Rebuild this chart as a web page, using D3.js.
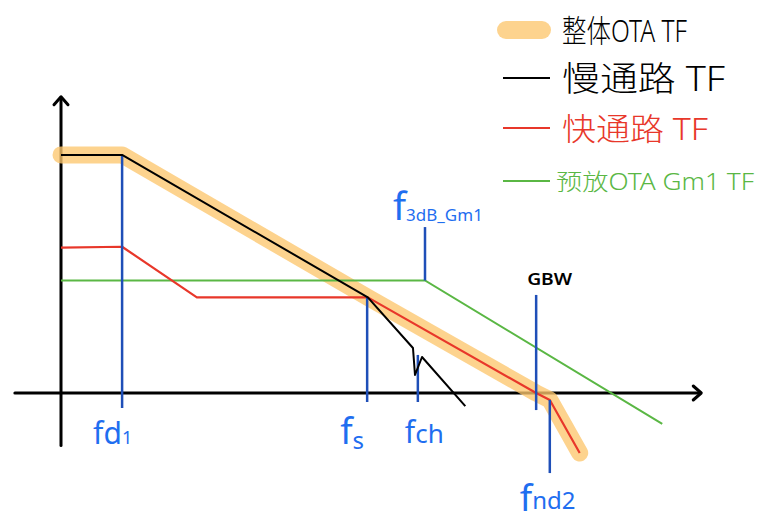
<!DOCTYPE html>
<html>
<head>
<meta charset="utf-8">
<script src="https://cdn.jsdelivr.net/npm/d3@7/dist/d3.min.js"></script>
<style>
  html, body { margin: 0; padding: 0; background: #fff; }
  svg { display: block; }
  text { font-family: "Noto Sans", "Noto Sans CJK SC", sans-serif; }
</style>
</head>
<body>
<svg id="chart" width="771" height="522"></svg>
<script>
// ---- data: x = log10(frequency) [decades], y = gain [dB] ----
const overallTF = [[0, 127], [0.94, 127], [4.72, 51], [7.31, 0], [7.52, -3.7], [7.98, -32]];
const slowPathTF = [[0, 127], [0.94, 127], [4.72, 51], [5.415, 24], [5.446, 9.6], [5.554, 19.2], [6.22, -7]];
const fastPathTF = [[0, 77.5], [0.94, 78], [2.09, 51], [4.72, 51], [7.31, 0], [7.52, -3.7], [7.98, -32]];
const preampTF = [[0, 60], [5.6, 60], [9.25, -16.5]];

const markerNames = ["fd1", "fs", "fch", "f3dB_Gm1", "GBW", "fnd2"];
const markerFreqs = [0.94, 4.71, 5.49, 5.6, 7.31, 7.52];
const markerTop = [127, 51, 20.3, 88.5, 52.3, -3.7];
const markerBottom = [-8, -4.8, -4.8, 60, -9.1, -42.7];

const legendLabels = ["整体OTA TF", "慢通路 TF", "快通路 TF", "预放OTA Gm1 TF"];
const axisRange = { xMin: -0.71, xMax: 9.85, yMin: -28, yMax: 158 };

// ---- scales ----
const svg = d3.select("#chart");
const x = d3.scaleLinear().domain([0, 10]).range([61, 711]);
const y = d3.scaleLinear().domain([-40, 160]).range([468, 93]);
const line = d3.line().x(d => x(d[0])).y(d => y(d[1]));

// ---- axes ----
const ax = svg.append("g").attr("stroke", "#000").attr("stroke-width", 3)
  .attr("fill", "none").attr("stroke-linecap", "round").attr("stroke-linejoin", "round");
ax.append("line").attr("x1", x(axisRange.xMin)).attr("x2", x(axisRange.xMax) - 1)
  .attr("y1", y(0)).attr("y2", y(0));
ax.append("line").attr("x1", x(0)).attr("x2", x(0))
  .attr("y1", y(axisRange.yMin)).attr("y2", y(axisRange.yMax) + 1);
// arrow heads
ax.append("path").attr("d", `M${x(axisRange.xMax) - 8},${y(0) - 7} L${x(axisRange.xMax)},${y(0)} L${x(axisRange.xMax) - 8},${y(0) + 7}`);
ax.append("path").attr("d", `M${x(0) - 7},${y(axisRange.yMax) + 8} L${x(0)},${y(axisRange.yMax)} L${x(0) + 7},${y(axisRange.yMax) + 8}`);

// ---- overall (thick orange highlight) ----
svg.append("path").datum(overallTF).attr("d", line)
  .attr("fill", "none").attr("stroke", "#fdc66e").attr("stroke-opacity", 0.78)
  .attr("stroke-width", 17).attr("stroke-linecap", "round").attr("stroke-linejoin", "round");

// ---- green preamp ----
svg.append("path").datum(preampTF).attr("d", line)
  .attr("fill", "none").attr("stroke", "#5ab744").attr("stroke-width", 2);

// ---- red fast path ----
svg.append("path").datum(fastPathTF).attr("d", line)
  .attr("fill", "none").attr("stroke", "#e8372a").attr("stroke-width", 2.2)
  .attr("stroke-linejoin", "round");

// ---- markers (blue verticals) ----
svg.append("g").selectAll("line").data(markerFreqs).join("line")
  .attr("x1", d => x(d)).attr("x2", d => x(d))
  .attr("y1", (d, i) => y(markerTop[i])).attr("y2", (d, i) => y(markerBottom[i]))
  .attr("stroke", "#1f4fb8").attr("stroke-width", 2.5);

// ---- black slow path ----
svg.append("path").datum(slowPathTF).attr("d", line)
  .attr("fill", "none").attr("stroke", "#000").attr("stroke-width", 2)
  .attr("stroke-linejoin", "round");

// ---- marker labels ----
const blue = "#1f6ef0";
function fLabel(xp, yp, main, mainSize, sub, subSize, subDy, color) {
  const t = svg.append("text").attr("x", xp).attr("y", yp).attr("fill", color || blue);
  t.append("tspan").attr("font-size", mainSize).text(main);
  if (sub) t.append("tspan").attr("font-size", subSize).attr("dy", subDy).text(sub);
  return t;
}
fLabel(x(markerFreqs[0]) - 29, 444, "fd", 30, "1", 18, 0);
fLabel(x(markerFreqs[1]) - 27, 444, "f", 36, "s", 24, 5);
fLabel(x(markerFreqs[2]) - 13, 443, "f", 30, "ch", 26, 0);
fLabel(x(markerFreqs[3]) - 32, 220, "f", 38, "3dB_Gm1", 17, 1);
svg.append("text").attr("x", x(markerFreqs[4]) - 9).attr("y", 285)
  .attr("fill", "#000").attr("font-size", 16).attr("font-weight", 600)
  .attr("textLength", 45).attr("lengthAdjust", "spacingAndGlyphs").text("GBW");
fLabel(x(markerFreqs[5]) - 30, 511, "f", 36, "nd2", 24, -2);

// ---- legend ----
const legendY = [30, 78, 128, 181];
const legendColors = ["#fdc66e", "#000", "#e8372a", "#5ab744"];
const legendTextColors = ["#000", "#000", "#e8372a", "#5ab744"];
const legendSizes = [31, 34, 31, 23];
const legendWidths = [125, 163, 146, 198];
const lg = svg.append("g");
legendLabels.forEach((lab, i) => {
  if (i === 0) {
    lg.append("line").attr("x1", 506).attr("x2", 542).attr("y1", legendY[i]).attr("y2", legendY[i])
      .attr("stroke", legendColors[i]).attr("stroke-opacity", 0.78)
      .attr("stroke-width", 18).attr("stroke-linecap", "round");
  } else {
    lg.append("line").attr("x1", 503).attr("x2", 550).attr("y1", legendY[i]).attr("y2", legendY[i])
      .attr("stroke", legendColors[i]).attr("stroke-width", 2);
  }
  lg.append("text").attr("x", i === 3 ? 556 : 562).attr("y", legendY[i])
    .attr("dominant-baseline", "central")
    .attr("fill", legendTextColors[i]).attr("font-size", legendSizes[i])
    .attr("font-family", "'Noto Sans CJK SC', sans-serif").attr("font-weight", 300)
    .attr("textLength", legendWidths[i]).attr("lengthAdjust", "spacingAndGlyphs")
    .text(lab);
});
</script>
</body>
</html>
